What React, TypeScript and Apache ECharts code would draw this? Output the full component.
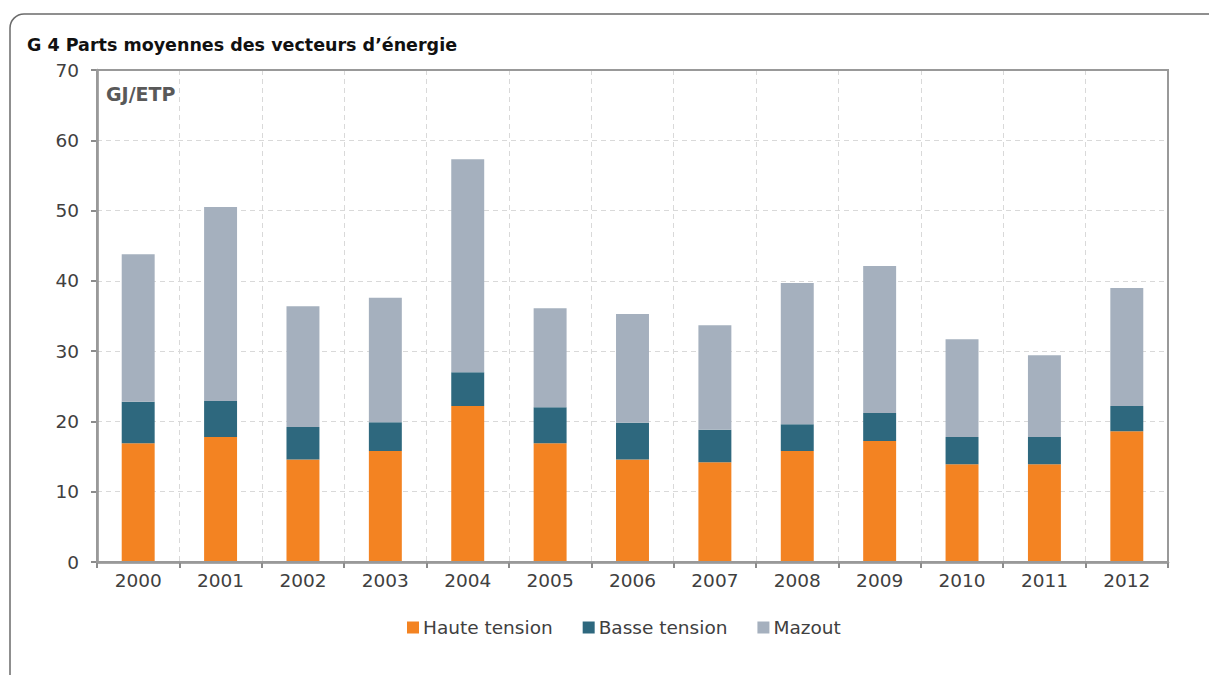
import React, { useEffect, useRef } from "react";
import * as echarts from "echarts";

const years = ["2000","2001","2002","2003","2004","2005","2006","2007","2008","2009","2010","2011","2012"];
const hauteTension = [16.9, 17.8, 14.6, 15.8, 22.2, 16.9, 14.6, 14.2, 15.8, 17.2, 13.9, 13.9, 18.6];
const basseTension = [5.9, 5.1, 4.6, 4.1, 4.8, 5.1, 5.2, 4.6, 3.8, 4.0, 3.9, 3.9, 3.6];
const mazout = [21.0, 27.6, 17.2, 17.7, 30.3, 14.1, 15.5, 14.9, 20.1, 20.9, 13.9, 11.6, 16.8];
const seriesNames = ["Haute tension", "Basse tension", "Mazout"];
const title = "G 4 Parts moyennes des vecteurs d\u2019énergie";
const unit = "GJ/ETP";

const FONT = "'DejaVu Sans', sans-serif";
const TXT = "#404040";

export default function App() {
  const ref = useRef<HTMLDivElement>(null);
  useEffect(() => {
    const chart = echarts.init(ref.current!, undefined, { renderer: "svg" });
    const L = 97, T = 70, R = 41, B = 113;
    const W = 1209 - L - R, H = 675 - T - B;
    chart.setOption({
      animation: false,
      backgroundColor: "#ffffff",
      textStyle: { fontFamily: FONT },
      grid: { left: L, right: R, top: T, bottom: B },
      graphic: [
        {
          type: "rect",
          shape: { x: 10, y: 14, width: 1260, height: 720, r: [14, 0, 0, 0] },
          style: { fill: "none", stroke: "#6b6b6b", lineWidth: 1.5 },
          silent: true,
        },
        {
          type: "rect",
          shape: { x: L, y: T, width: W, height: H },
          style: { fill: "none", stroke: "#999999", lineWidth: 2 },
          silent: true, z: 100,
        },
        {
          type: "text", left: 27, top: 36,
          style: { text: title, font: `bold 17.5px ${FONT}`, fill: "#111111" },
        },
        {
          type: "text", left: 106, top: 84,
          style: { text: unit, font: `bold 19px ${FONT}`, fill: "#595959" },
        },
      ],
      legend: {
        bottom: 33, left: 402,
        itemWidth: 12, itemHeight: 12, itemGap: 30,
        icon: "rect",
        textStyle: { fontSize: 18.5, color: TXT, fontFamily: FONT, padding: [0, 0, 0, -1] },
        data: seriesNames,
      },
      xAxis: {
        type: "category",
        data: years,
        axisLine: { lineStyle: { color: "#8c8c8c", width: 2.5 } },
        axisTick: { show: true, length: 6, lineStyle: { color: "#8c8c8c", width: 2 } },
        axisLabel: { fontSize: 18.5, color: TXT, margin: 9, fontFamily: FONT },
        splitLine: { show: true, lineStyle: { color: "#d9d9d9", type: [5, 4], width: 1 } },
      },
      yAxis: {
        type: "value",
        min: 0, max: 70, interval: 10,
        axisLine: { show: true, lineStyle: { color: "#8c8c8c", width: 2.5 } },
        axisTick: { show: true, length: 6, lineStyle: { color: "#8c8c8c", width: 2 } },
        axisLabel: { fontSize: 18.5, color: TXT, margin: 18, fontFamily: FONT },
        splitLine: { show: true, lineStyle: { color: "#d9d9d9", type: [5, 4], width: 1 } },
      },
      series: [
        { name: seriesNames[0], type: "bar", stack: "t", data: hauteTension, barWidth: "40%", itemStyle: { color: "#F38322" } },
        { name: seriesNames[1], type: "bar", stack: "t", data: basseTension, barWidth: "40%", itemStyle: { color: "#2E687E" } },
        { name: seriesNames[2], type: "bar", stack: "t", data: mazout, barWidth: "40%", itemStyle: { color: "#A5B0BE" } },
      ],
    });
    return () => chart.dispose();
  }, []);
  return <div ref={ref} style={{ position: "fixed", left: 0, top: 0, width: 1209, height: 675 }} />;
}
